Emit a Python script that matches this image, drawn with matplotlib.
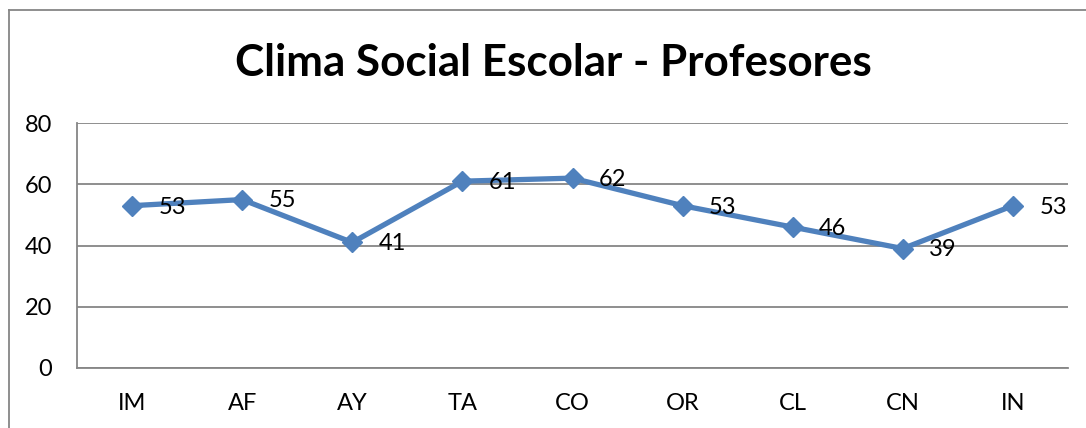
import matplotlib.pyplot as plt
from matplotlib.lines import Line2D

# data
categorias = ['IM', 'AF', 'AY', 'TA', 'CO', 'OR', 'CL', 'CN', 'IN']
valores = [53, 55, 41, 61, 62, 53, 46, 39, 53]
yticks = [0, 20, 40, 60, 80]

azul = '#4F81BD'
gris = '#868686'
plt.rcParams['font.family'] = ['Lato', 'DejaVu Sans']

fig = plt.figure(figsize=(10.86, 4.28), dpi=100)
ax = fig.add_axes([77/1086, 60/428, (1068-77)/1086, 245/428])

x = list(range(len(categorias)))
ax.plot(x, valores, color=azul, lw=3.8, marker='D', ms=10, mec=azul, mfc=azul,
        clip_on=False, zorder=3)
for xi, v in zip(x, valores):
    ax.annotate(str(v), (xi, v), xytext=(19, -1), textcoords='offset points',
                ha='left', va='center', fontsize=17, color='black')

ax.set_xlim(-0.5, len(categorias) - 0.5)
ax.set_ylim(0, 80)
ax.set_yticks(yticks)
ax.set_xticks(x)
ax.set_xticklabels(categorias)
ax.tick_params(axis='both', length=0, labelsize=17)
ax.tick_params(axis='y', pad=18)
ax.tick_params(axis='x', pad=18)
ax.yaxis.grid(True, color=gris, lw=1.3)
ax.set_axisbelow(True)
for s in ['top', 'right']:
    ax.spines[s].set_visible(False)
for s in ['left', 'bottom']:
    ax.spines[s].set_color(gris)
    ax.spines[s].set_linewidth(1.3)

# titulo
fig.text(553/1086, 1 - 63/428, 'Clima Social Escolar - Profesores',
         ha='center', va='center', fontsize=31.7, fontweight='bold')

# borde del grafico
fig.add_artist(Line2D([8.5/1086, 8.5/1086], [0, 1 - 10/428], transform=fig.transFigure,
                      color=gris, lw=1.3))
fig.add_artist(Line2D([8.5/1086, 1], [1 - 10/428, 1 - 10/428], transform=fig.transFigure,
                      color=gris, lw=1.3))

fig.savefig('out.png', dpi=100)
